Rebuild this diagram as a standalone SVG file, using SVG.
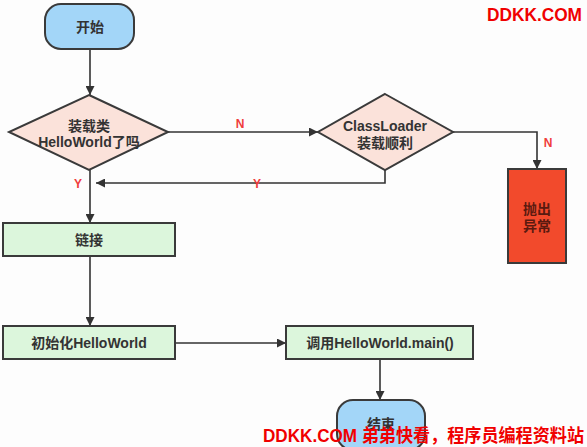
<svg xmlns="http://www.w3.org/2000/svg" width="587" height="447" viewBox="0 0 587 447">
<style>
.n{stroke:#3a3a3a;stroke-width:2}
.t{font-family:"Liberation Sans","Noto Sans CJK SC",sans-serif;font-size:14px;font-weight:bold;fill:#333;text-anchor:middle;dominant-baseline:central}
.c{fill:none;stroke:#333;stroke-width:1.6}
.l{font-family:"Liberation Sans","Noto Sans CJK SC",sans-serif;font-size:12px;font-weight:bold;fill:#f03c3c;text-anchor:middle;dominant-baseline:central}
.w{font-family:"Liberation Sans","Noto Sans CJK SC",sans-serif;font-size:18px;font-weight:bold;fill:#f00000}
</style>
<defs>
<marker id="a" viewBox="0 0 10 10" refX="10" refY="5" markerWidth="9" markerHeight="9" markerUnits="userSpaceOnUse" orient="auto"><path d="M0,0 L10,5 L0,10 z" fill="#333"/></marker>
</defs>
<rect width="587" height="447" fill="#fdfdfd"/>
<g id="connectors">
<path class="c" d="M90,49 V95" marker-end="url(#a)"/>
<path class="c" d="M168,132 H318" marker-end="url(#a)"/>
<path class="c" d="M453,132 H537 V169" marker-end="url(#a)"/>
<path class="c" d="M385,170 V183 H96" marker-end="url(#a)"/>
<path class="c" d="M90,170 V223" marker-end="url(#a)"/>
<path class="c" d="M90,256 V326" marker-end="url(#a)"/>
<path class="c" d="M175,343 H286" marker-end="url(#a)"/>
<path class="c" d="M380,359 V400" marker-end="url(#a)"/>
<text class="l" x="240" y="124">N</text>
<text class="l" x="548" y="143">N</text>
<text class="l" x="257" y="184">Y</text>
<text class="l" x="78" y="184">Y</text>
</g>
<g id="start">
<rect class="n" x="45" y="4" width="89" height="45" rx="16" fill="#a3d6f8"/>
<text class="t" x="90" y="27">开始</text>
</g>
<g id="decision1">
<polygon class="n" points="89,95 168,132 89,170 9,132" fill="#fbe2da"/>
<text class="t" x="89" y="126">装载类</text>
<text class="t" x="89" y="142">HelloWorld了吗</text>
</g>
<g id="decision2">
<polygon class="n" points="385,94 453,132 385,170 318,132" fill="#fbe2da"/>
<text class="t" x="385" y="126">ClassLoader</text>
<text class="t" x="385" y="143">装载顺利</text>
</g>
<g id="throw">
<rect class="n" x="508" y="169" width="58" height="94" fill="#f24a2c"/>
<text class="t" x="537" y="209" style="fill:#5a1a10">抛出</text>
<text class="t" x="537" y="226" style="fill:#5a1a10">异常</text>
</g>
<g id="link">
<rect class="n" x="3" y="223" width="172" height="33" fill="#dcf6dc"/>
<text class="t" x="89" y="240">链接</text>
</g>
<g id="init">
<rect class="n" x="3" y="326" width="172" height="33" fill="#dcf6dc"/>
<text class="t" x="89" y="343">初始化HelloWorld</text>
</g>
<g id="call">
<rect class="n" x="286" y="326" width="187" height="33" fill="#dcf6dc"/>
<text class="t" x="380" y="343">调用HelloWorld.main()</text>
</g>
<g id="end">
<rect class="n" x="337" y="400" width="88" height="50" rx="16" fill="#a3d6f8"/>
<text class="t" x="381" y="424">结束</text>
</g>
<text class="w" x="487" y="21" textLength="95" lengthAdjust="spacingAndGlyphs">DDKK.COM</text>
<text class="w" x="263" y="442" textLength="321" lengthAdjust="spacingAndGlyphs">DDKK.COM 弟弟快看，程序员编程资料站</text>
</svg>
